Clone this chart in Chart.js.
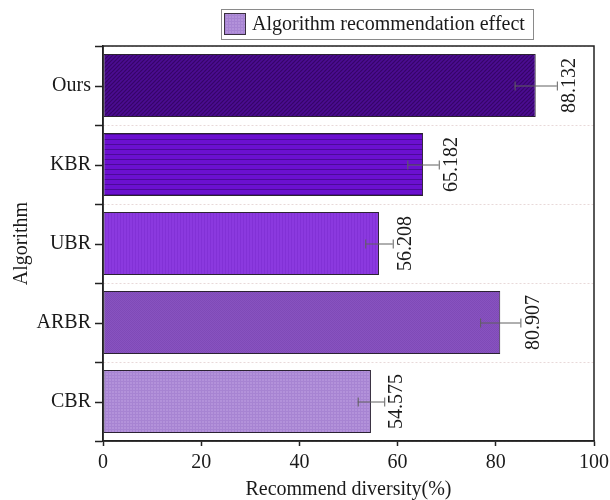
<!DOCTYPE html>
<html>
<head>
<meta charset="utf-8">
<script src="https://cdn.jsdelivr.net/npm/chart.js@4.4.1/dist/chart.umd.min.js"></script>
<style>
  html, body { margin: 0; padding: 0; background: #fff; }
  #wrap { width: 610px; height: 500px; }
</style>
</head>
<body>
<div id="wrap"><canvas id="c" width="610" height="500"></canvas></div>
<script>
// Algorithms, listed top to bottom
const categories = ['Ours', 'KBR', 'UBR', 'ARBR', 'CBR'];
// Mean recommendation diversity (%) and its error
const diversity = [88.132, 65.182, 56.208, 80.907, 54.575];
const errors = [4.3, 3.2, 2.8, 4.1, 2.7];
const xTicks = [0, 20, 40, 60, 80, 100];
const seriesLabel = 'Algorithm recommendation effect';
const xTitle = 'Recommend diversity(%)';
const yTitle = 'Algorithm';

const FONT = "'Liberation Serif', 'Times New Roman', serif";
const INK = '#1a1a1a';
Chart.defaults.font.family = FONT;
Chart.defaults.color = INK;

// Fill textures for the bars
function tile(w, h, paint) {
  const c = document.createElement('canvas');
  c.width = w; c.height = h;
  const g = c.getContext('2d');
  paint(g, w, h);
  return g.createPattern(c, 'repeat');
}
const ctxMain = document.getElementById('c').getContext('2d');
const fills = [
  // diagonal hatch
  tile(8, 8, (g, w, h) => {
    g.fillStyle = '#4b0c91'; g.fillRect(0, 0, w, h);
    g.strokeStyle = '#360568'; g.lineWidth = 1.2;
    g.beginPath();
    for (let k = -w; k <= 2 * w; k += 4) { g.moveTo(k, h); g.lineTo(k + w, 0); }
    g.stroke();
  }),
  // horizontal lines
  tile(5, 5, (g, w, h) => {
    g.fillStyle = '#6b10d0'; g.fillRect(0, 0, w, h);
    g.fillStyle = '#4c0a9a'; g.fillRect(0, 4, w, 1);
  }),
  // fine vertical texture
  tile(3, 3, (g, w, h) => {
    g.fillStyle = '#8b39df'; g.fillRect(0, 0, w, h);
    g.fillStyle = '#8231d6'; g.fillRect(0, 0, 1, h);
  }),
  // fine cross texture
  tile(2, 2, (g, w, h) => {
    g.fillStyle = '#8853c0'; g.fillRect(0, 0, w, h);
    g.fillStyle = '#7f4ab7'; g.fillRect(0, 0, 1, 1); g.fillRect(1, 1, 1, 1);
  }),
  // fine grid
  tile(3, 3, (g, w, h) => {
    g.fillStyle = '#b392da'; g.fillRect(0, 0, w, h);
    g.fillStyle = '#a784d2'; g.fillRect(0, 0, w, 1); g.fillRect(0, 0, 1, h);
  })
];
const legendFill = fills[4];

// Error bars, value labels, centre ticks, frame and legend box
const decorations = {
  id: 'decorations',
  afterDatasetsDraw(chart) {
    const { ctx } = chart;
    const xs = chart.scales.x;
    const meta = chart.getDatasetMeta(0);
    meta.data.forEach((bar, i) => {
      const y = bar.y;
      const lo = xs.getPixelForValue(diversity[i] - errors[i]);
      const hi = xs.getPixelForValue(diversity[i] + errors[i]);
      ctx.save();
      ctx.strokeStyle = '#606060';
      ctx.lineWidth = 1;
      ctx.beginPath();
      ctx.moveTo(lo, y + 0.5); ctx.lineTo(hi, y + 0.5);
      ctx.moveTo(lo + 0.5, y - 4); ctx.lineTo(lo + 0.5, y + 5);
      ctx.moveTo(hi + 0.5, y - 4); ctx.lineTo(hi + 0.5, y + 5);
      ctx.stroke();
      ctx.translate(hi + 13, y);
      ctx.rotate(-Math.PI / 2);
      ctx.fillStyle = INK;
      ctx.font = '20px ' + FONT;
      ctx.textAlign = 'center';
      ctx.textBaseline = 'middle';
      ctx.fillText(diversity[i].toFixed(3), 0, 0);
      ctx.restore();
    });
  },
  afterDraw(chart) {
    const { ctx, chartArea: a } = chart;
    const ys = chart.scales.y;
    ctx.save();
    ctx.strokeStyle = '#222';
    ctx.lineWidth = 1.5;
    // ticks at each category centre
    ctx.beginPath();
    categories.forEach((_, i) => {
      const y = Math.round(ys.getPixelForValue(i)) + 0.5;
      ctx.moveTo(a.left - 8, y); ctx.lineTo(a.left, y);
    });
    ctx.stroke();
    // frame
    ctx.strokeRect(a.left, a.top, a.right - a.left, a.bottom - a.top);
    // legend
    ctx.lineWidth = 1;
    ctx.strokeStyle = '#8a8a8a';
    ctx.strokeRect(221.5, 9.5, 312, 30);
    ctx.fillStyle = legendFill;
    ctx.fillRect(224, 13, 22, 22);
    ctx.strokeStyle = '#3a3040';
    ctx.strokeRect(224.5, 13.5, 21, 21);
    ctx.fillStyle = INK;
    ctx.font = '20px ' + FONT;
    ctx.textAlign = 'left';
    ctx.textBaseline = 'middle';
    ctx.fillText(chart.data.datasets[0].label, 252, 25);
    ctx.restore();
  }
};

new Chart(ctxMain, {
  type: 'bar',
  data: {
    labels: categories,
    datasets: [{
      label: seriesLabel,
      data: diversity,
      backgroundColor: fills,
      borderColor: '#2b2233',
      borderWidth: 1,
      borderSkipped: false,
      barPercentage: 0.8,
      categoryPercentage: 1
    }]
  },
  options: {
    indexAxis: 'y',
    responsive: false,
    animation: false,
    devicePixelRatio: 1,
    layout: { padding: { top: 46, right: 16, bottom: 0, left: 0 } },
    plugins: { legend: { display: false }, tooltip: { enabled: false } },
    scales: {
      x: {
        type: 'linear',
        min: 0, max: 100,
        afterBuildTicks: s => { s.ticks = xTicks.map(v => ({ value: v })); },
        grid: { drawOnChartArea: false, tickLength: 5, tickColor: '#222', tickWidth: 1.5 },
        border: { color: '#222', width: 1.5 },
        ticks: { padding: 5, color: INK, font: { size: 20 } },
        title: { display: true, text: xTitle, color: INK, font: { size: 20, lineHeight: 1 }, padding: { top: 0, bottom: 0 } },
        afterFit: s => { s.height = 59; s.paddingLeft = 0; s.paddingRight = 0; }
      },
      y: {
        offset: true,
        grid: { offset: true, color: '#e8d9d9', lineWidth: 1, tickLength: 8, tickColor: '#222', tickWidth: 1.5 },
        border: { color: '#222', width: 1.5, dash: [2, 2] },
        ticks: { padding: 4, color: INK, font: { size: 20 } },
        title: { display: true, text: yTitle, color: INK, font: { size: 20 }, padding: { top: 10, bottom: 0 } },
        afterFit: s => { s.width = 103; s.paddingTop = 0; s.paddingBottom = 0; }
      }
    }
  },
  plugins: [decorations]
});
</script>
</body>
</html>
